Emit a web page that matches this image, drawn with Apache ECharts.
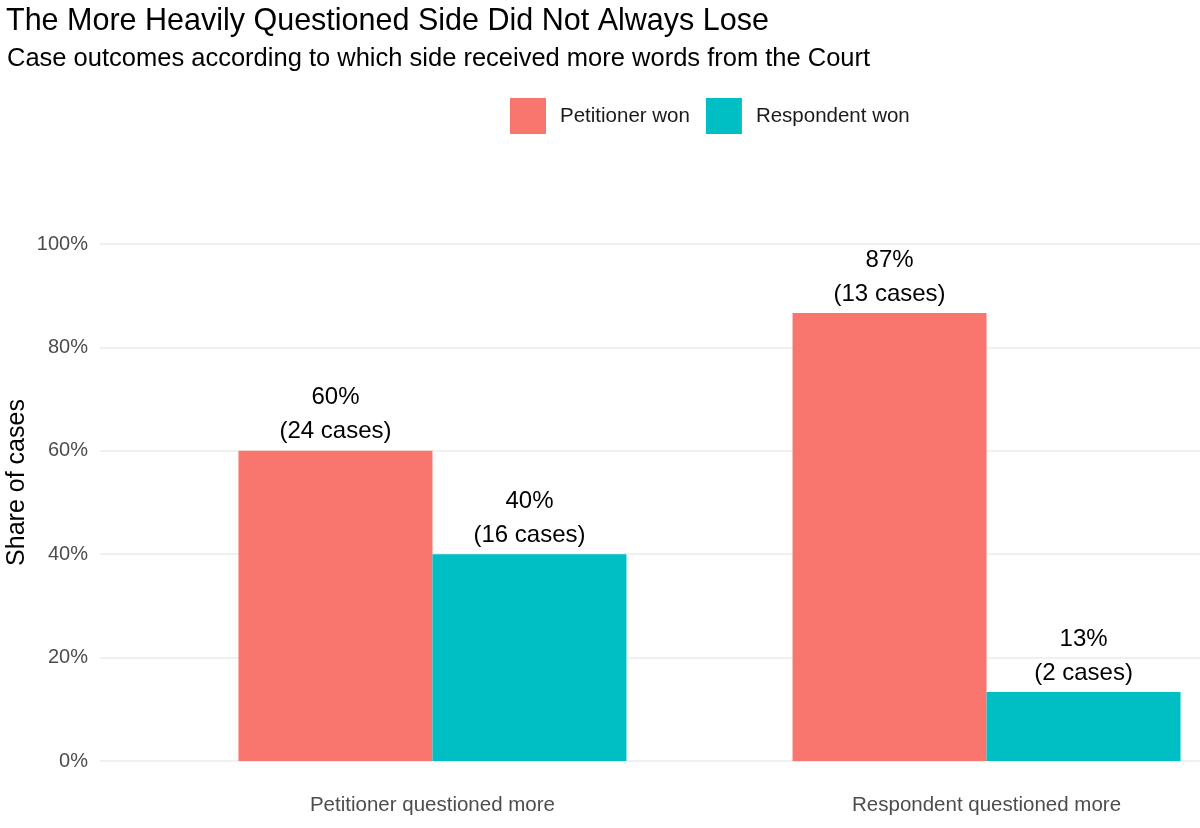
<!DOCTYPE html>
<html>
<head>
<meta charset="utf-8">
<title>Case outcomes</title>
<script src="https://cdn.jsdelivr.net/npm/echarts@6/dist/echarts.min.js"></script>
<style>
  body { margin: 0; background: #fff; }
</style>
</head>
<body>
<div id="main" style="width: 1200px; height: 828px;"></div>
<script type="text/javascript">

var categories = ['Petitioner questioned more', 'Respondent questioned more'];
var petitionerShare = [60, 86.67];
var respondentShare = [40, 13.33];
var petitionerCases = [24, 13];
var respondentCases = [16, 2];
var yTicks = [0, 20, 40, 60, 80, 100];

var font = 'Liberation Sans';

function labelFor(counts) {
  return function (p) {
    var i = p.dataIndex;
    return Math.round(p.value[1]) + '%\n(' + counts[i] + ' cases)';
  };
}

var chartDom = document.getElementById('main');
var myChart = echarts.init(chartDom);

var option = {
  backgroundColor: '#fff',
  animation: false,
  textStyle: { fontFamily: font },
  title: [
    {
      text: 'The More Heavily Questioned Side Did Not Always Lose',
      left: 6, top: 6, padding: 0,
      textStyle: { fontSize: 30.5, fontWeight: 'normal', color: '#000', fontFamily: font }
    },
    {
      text: 'Case outcomes according to which side received more words from the Court',
      left: 7, top: 46, padding: 0,
      textStyle: { fontSize: 25.5, fontWeight: 'normal', color: '#000', fontFamily: font }
    }
  ],
  legend: {
    left: 510, top: 98, padding: 0,
    itemWidth: 36, itemHeight: 36,
    itemGap: 16,
    icon: 'rect',
    textStyle: { fontSize: 20.5, color: '#1a1a1a', fontFamily: font, padding: [0, 0, 0, 9] },
    data: ['Petitioner won', 'Respondent won']
  },
  grid: { left: 100, right: -119, top: 244, bottom: 67, containLabel: false, outerBoundsMode: 'none' },
  xAxis: {
    type: 'value',
    min: 0.4, max: 2.6,
    splitLine: { show: false },
    axisLine: { show: false },
    axisTick: { show: false },
    axisLabel: {
      customValues: categories.map(function (c, i) { return i + 1; }),
      formatter: function (v) { return categories[Math.round(v) - 1] || ''; },
      margin: 34,
      fontSize: 20.5,
      color: '#4d4d4d',
      fontFamily: font
    }
  },
  yAxis: {
    type: 'value',
    min: yTicks[0], max: yTicks[yTicks.length - 1], interval: 20,
    name: 'Share of cases',
    nameLocation: 'middle',
    nameRotate: 90,
    nameGap: 70,
    nameMoveOverlap: false,
    nameTextStyle: { fontSize: 25, color: '#000', fontFamily: font, padding: [0, 0, 0, 40] },
    axisLine: { show: false },
    axisTick: { show: false },
    axisLabel: {
      formatter: '{value}%',
      margin: 12,
      fontSize: 20,
      color: '#4d4d4d',
      fontFamily: font
    },
    splitLine: { lineStyle: { color: '#ebebeb', width: 1.5 } }
  },
  series: [
    {
      name: 'Petitioner won',
      type: 'bar',
      barWidth: 194,
      barGap: '0%',
      itemStyle: { color: '#F8766D' },
      label: {
        show: true, position: 'top', distance: 2,
        fontSize: 24, lineHeight: 34, color: '#000', fontFamily: font,
        formatter: labelFor(petitionerCases)
      },
      data: categories.map(function (c, i) { return [i + 1, petitionerShare[i]]; })
    },
    {
      name: 'Respondent won',
      type: 'bar',
      barWidth: 194,
      barGap: '0%',
      itemStyle: { color: '#00BFC4' },
      label: {
        show: true, position: 'top', distance: 2,
        fontSize: 24, lineHeight: 34, color: '#000', fontFamily: font,
        formatter: labelFor(respondentCases)
      },
      data: categories.map(function (c, i) { return [i + 1, respondentShare[i]]; })
    }
  ]
};

option && myChart.setOption(option);
</script>
</body>
</html>
